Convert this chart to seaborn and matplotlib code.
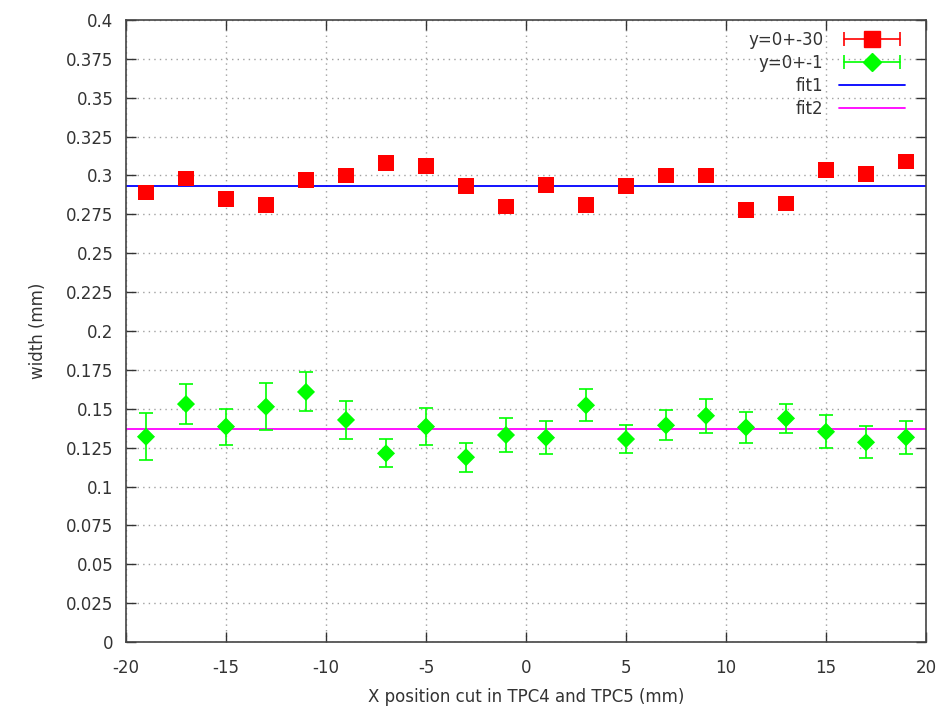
import numpy as np
import pandas as pd
import seaborn as sns
import matplotlib.pyplot as plt
from matplotlib.lines import Line2D
from matplotlib.legend_handler import HandlerLine2D, HandlerTuple

# x positions of the cuts (mm)
x_pos = [-19, -17, -15, -13, -11, -9, -7, -5, -3, -1, 1, 3, 5, 7, 9, 11, 13, 15, 17, 19]

# y=0+-30 sample
width30 = [0.289, 0.298, 0.285, 0.281, 0.297, 0.300, 0.308, 0.306, 0.293, 0.280,
           0.294, 0.281, 0.293, 0.300, 0.300, 0.278, 0.282, 0.3035, 0.301, 0.309]
err30 = [0.003] * 20

# y=0+-1 sample
width1 = [0.132, 0.153, 0.1385, 0.1513, 0.1608, 0.1428, 0.1213, 0.1385, 0.1188, 0.1331,
          0.1314, 0.1522, 0.1305, 0.1393, 0.1455, 0.138, 0.1438, 0.1352, 0.1284, 0.1316]
err1 = [0.015, 0.013, 0.0115, 0.015, 0.0125, 0.012, 0.009, 0.012, 0.0094, 0.0112,
        0.0108, 0.0103, 0.009, 0.0097, 0.0108, 0.010, 0.0094, 0.0105, 0.0103, 0.0108]

fit1 = 0.2935
fit2 = 0.1368
fit_x = [-20, 20]

sns.set_style("ticks")
plt.rcParams["font.family"] = ["DejaVu Sans"]
plt.rcParams["axes.unicode_minus"] = False
plt.rcParams["xtick.direction"] = "in"
plt.rcParams["ytick.direction"] = "in"

fig = plt.figure(figsize=(9.43, 7.11), dpi=100)
ax = fig.add_axes([0.1336, 0.097, 0.8484, 0.875])

#fit lines
fits = pd.DataFrame({"x": fit_x * 2, "y": [fit1, fit1, fit2, fit2],
                     "fit": ["fit1", "fit1", "fit2", "fit2"]})
sns.lineplot(data=fits, x="x", y="y", hue="fit", palette={"fit1": "#0000FF", "fit2": "#FF00FF"},
             linewidth=1.3, legend=False, ax=ax, zorder=2)

#data points with error bars
ax.errorbar(x_pos, width30, yerr=err30, fmt="none", ecolor="#FF0000", elinewidth=1.2,
            capsize=5, zorder=3)
ax.errorbar(x_pos, width1, yerr=err1, fmt="none", ecolor="#00FF00", elinewidth=1.2,
            capsize=5, capthick=1.2, zorder=3)
sns.scatterplot(x=x_pos, y=width30, marker="s", s=130, color="#FF0000", edgecolor="none",
                ax=ax, zorder=4)
sns.scatterplot(x=x_pos, y=width1, marker="D", s=85, color="#00FF00", edgecolor="none",
                ax=ax, zorder=4)

ax.set_xlim(-20, 20)
ax.set_ylim(0, 0.4)
ax.set_xticks(np.arange(-20, 21, 5))
ax.set_yticks(np.arange(0, 0.4001, 0.025))
ax.set_yticklabels(["0", "0.025", "0.05", "0.075", "0.1", "0.125", "0.15", "0.175", "0.2",
                    "0.225", "0.25", "0.275", "0.3", "0.325", "0.35", "0.375", "0.4"])
ax.tick_params(top=True, right=True, length=7, width=1, labelsize=12, colors="#333333")
ax.tick_params(axis="x", pad=12)
ax.tick_params(axis="y", pad=9)
ax.grid(True, linestyle=(0, (1, 3)), color="#a0a0a0", linewidth=1)
for sp in ax.spines.values():
    sp.set_color("#444444")
    sp.set_linewidth(1.2)
ax.set_xlabel("X position cut in TPC4 and TPC5 (mm)", fontsize=12, color="#333333", labelpad=8)
ax.set_ylabel("width (mm)", fontsize=12, color="#333333", labelpad=14)

#legend in gnuplot style
cap30 = Line2D([], [], color="#FF0000", lw=1.2, marker="|", ms=10, mew=1.2)
mk30 = Line2D([], [], color="#FF0000", lw=0, marker="s", ms=11)
cap1 = Line2D([], [], color="#00FF00", lw=1.2, marker="|", ms=10, mew=1.2)
mk1 = Line2D([], [], color="#00FF00", lw=0, marker="D", ms=9)
l1 = Line2D([], [], color="#0000FF", lw=1.3)
l2 = Line2D([], [], color="#FF00FF", lw=1.3)
leg = ax.legend([(cap30, mk30), (cap1, mk1), l1, l2], ["y=0+-30", "y=0+-1", "fit1", "fit2"],
                handler_map={tuple: HandlerTuple(ndivide=1),
                             cap30: HandlerLine2D(numpoints=2),
                             cap1: HandlerLine2D(numpoints=2)},
                loc="upper right", bbox_to_anchor=(0.9875, 1.0),
                markerfirst=False, frameon=False, fontsize=12,
                handlelength=4.0, labelspacing=0.3, borderaxespad=0.25, handletextpad=0.9,
                numpoints=1)
for t in leg.get_texts():
    t.set_color("#333333")

plt.savefig("out.png", dpi=100)
